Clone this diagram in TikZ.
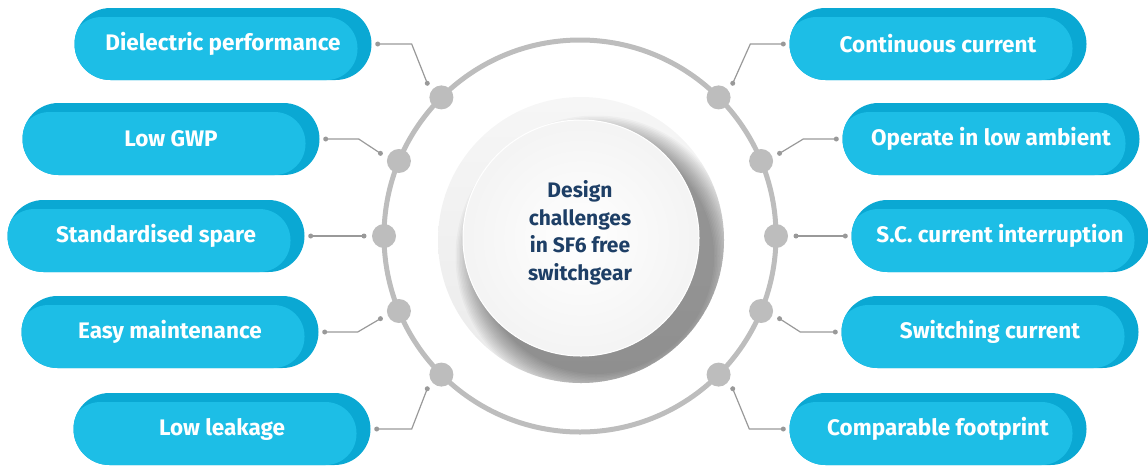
\documentclass[tikz,border=0pt]{standalone}
\usepackage{fontspec}
\setmainfont{Fira Sans}
\usepackage{tikz}
\usetikzlibrary{calc}
\usetikzlibrary{positioning}
\usetikzlibrary{shapes.misc}

\definecolor{pilldark}{HTML}{0AA8D3}
\definecolor{pilllight}{HTML}{1DBEE6}
\definecolor{ringgray}{HTML}{BDBDBD}
\definecolor{wiregray}{HTML}{999999}
\definecolor{navytext}{HTML}{1E3F66}

\begin{document}
\begin{tikzpicture}[x=1pt,y=-1pt,
  pill/.style={rounded rectangle, fill=pilldark, minimum width=297pt, minimum height=72pt,
    inner sep=0pt, text=white, font=\fontsize{22.5}{24}\selectfont\bfseries,
    path picture={\fill[pilllight, rounded corners=31pt]
      ([xshift=-4pt]path picture bounding box.south west) rectangle
      ([xshift=-14pt,yshift=-9pt]path picture bounding box.north east);}},
  wire/.style={wiregray, line width=1.2pt}]
\useasboundingbox (0,0) rectangle (1148,467);

\coordinate (O) at (580,236);

% ring and its beads
\draw[ringgray, line width=5pt] (O) circle (196);
\foreach \a in {0,22.5,45,135,157.5,180,202.5,225,315,337.5}
\fill [ringgray] ($(O)+(\a:196)$) circle (12);

% centre disc with its shadow
\shade[top color=gray!7, bottom color=gray!16] (581,240) circle (143);
\begin{scope}
\clip (581,240) circle (143);
\foreach \k in {0,...,15}
\fill [black,opacity=.027] (596,256) circle ({118+\k*1.5});
\end{scope}
\shade[inner color=white, outer color=gray!9] (581,238) circle (118);
\draw[white, line width=1pt] (581,238) circle (118);
\node[align=center, text=navytext, font=\fontsize{21}{27.5}\selectfont\bfseries] (title) at (580,233)
  {Design\\challenges\\in SF6 free\\switchgear};

% left pills
\node[pill] (dielectric) at (223,44) {Dielectric performance};
\node[pill] (gwp) at (171,139) {Low GWP};
\node[pill] (spare) at (156,236) {Standardised spare};
\node[pill] (maintenance) at (170,332) {Easy maintenance};
\node[pill] (leakage) at (222,429) {Low leakage};

% right pills
\node[pill] (continuous) at (938,44) {Continuous current};
\node[pill] (ambient) at (991,139) {Operate in low ambient};
\node[pill] (interruption) at (1000,236) {S.C. current interruption};
\node[pill] (switching) at (990,332) {Switching current};
\node[pill] (footprint) at (938,429) {Comparable footprint};

% wire ends next to the beads
\coordinate (dielectric_end) at ($(O)+(225:216)$);
\coordinate (gwp_end) at ($(O)+(202.5:216)$);
\coordinate (spare_end) at ($(O)+(180:216)$);
\coordinate (maintenance_end) at ($(O)+(157.5:216)$);
\coordinate (leakage_end) at ($(O)+(135:216)$);
\coordinate (continuous_end) at ($(O)+(315:216)$);
\coordinate (ambient_end) at ($(O)+(337.5:216)$);
\coordinate (interruption_end) at ($(O)+(0:216)$);
\coordinate (switching_end) at ($(O)+(22.5:216)$);
\coordinate (footprint_end) at ($(O)+(45:216)$);

\draw[wire] ([xshift=6pt]dielectric.east) coordinate (dielectric_start) -- ++(34,0) -- (dielectric_end);
\draw[wire] ([xshift=6pt]gwp.east) coordinate (gwp_start) -- ++(33,0) -- (gwp_end);
\draw[wire] ([xshift=6pt]spare.east) coordinate (spare_start) -- (spare_end);
\draw[wire] ([xshift=6pt]maintenance.east) coordinate (maintenance_start) -- ++(33,0) -- (maintenance_end);
\draw[wire] ([xshift=6pt]leakage.east) coordinate (leakage_start) -- ++(35,0) -- (leakage_end);

\draw[wire] ([xshift=-6pt]continuous.west) coordinate (continuous_start) -- ++(-33,0) -- (continuous_end);
\draw[wire] ([xshift=-6pt]ambient.west) coordinate (ambient_start) -- ++(-33,0) -- (ambient_end);
\draw[wire] ([xshift=-6pt]interruption.west) coordinate (interruption_start) -- (interruption_end);
\draw[wire] ([xshift=-6pt]switching.west) coordinate (switching_start) -- ++(-35,0) -- (switching_end);
\draw[wire] ([xshift=-6pt]footprint.west) coordinate (footprint_start) -- ++(-34,0) -- (footprint_end);

\foreach \point in {dielectric,gwp,spare,maintenance,leakage,continuous,ambient,interruption,switching,footprint}
{
\fill [wiregray] (\point_start) circle (2.5);
\fill [wiregray] (\point_end) circle (2.5);
}

\end{tikzpicture}
\end{document}
